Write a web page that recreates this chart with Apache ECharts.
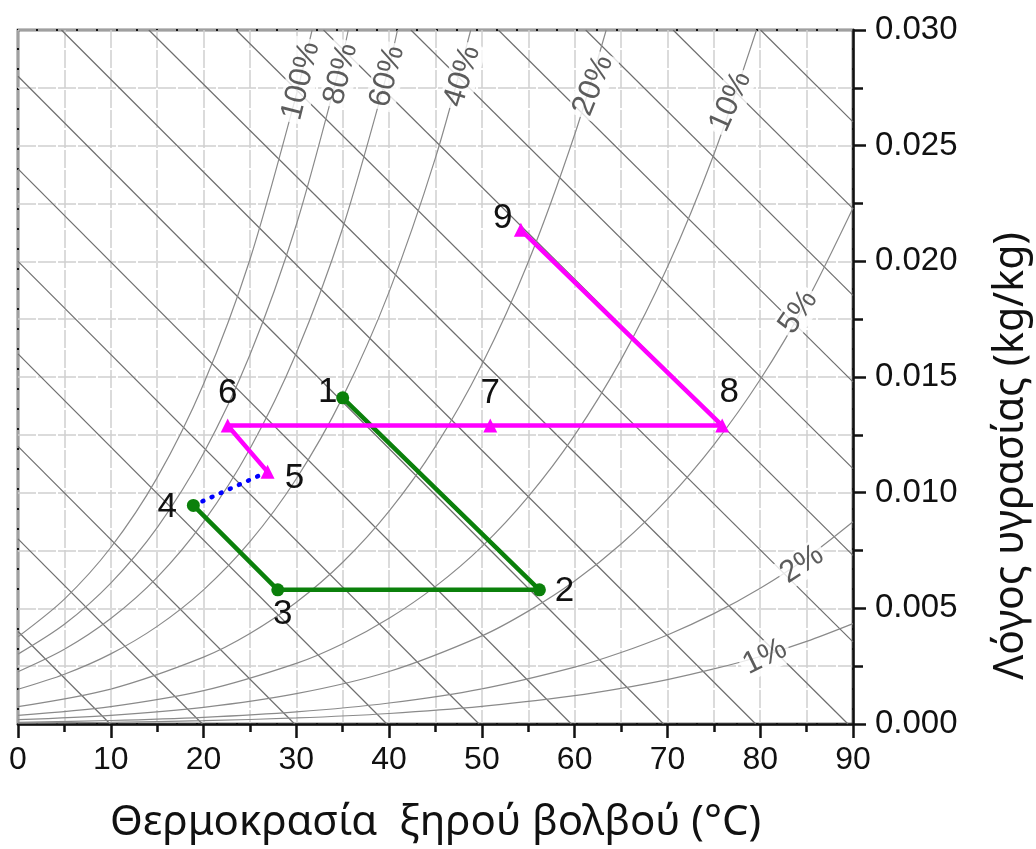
<!DOCTYPE html>
<html>
<head>
<meta charset="utf-8">
<script src="https://cdn.jsdelivr.net/npm/echarts@6/dist/echarts.min.js"></script>
<style>
  html, body { margin: 0; padding: 0; background: #ffffff; }
  #chart { width: 1036px; height: 849px; }
</style>
</head>
<body>
<div id="chart"></div>
<script>
// ---- Psychrometric background -------------------------------------------
// Relative-humidity curves: [dry-bulb temperature °C, humidity ratio kg/kg]
const rh100 = [[0,0.00377],[5,0.00540],[10,0.00763],[15,0.01065],[20,0.01470],[25,0.02008],[30,0.02720],[31.7,0.0300]];
const rh80  = [[0,0.00302],[5,0.00431],[10,0.00609],[15,0.00849],[20,0.01170],[25,0.01596],[30,0.02158],[35,0.02892],[35.6,0.0300]];
const rh60  = [[0,0.00226],[5,0.00323],[10,0.00456],[15,0.00634],[20,0.00874],[25,0.01190],[30,0.01604],[35,0.02144],[40,0.02844],[40.9,0.0300]];
const rh40  = [[0,0.00150],[5,0.00215],[10,0.00303],[15,0.00422],[20,0.00580],[25,0.00788],[30,0.01060],[35,0.01413],[40,0.01868],[45,0.02448],[48.8,0.0300]];
const rh20  = [[0,0.00075],[10,0.00151],[20,0.00289],[25,0.00391],[30,0.00526],[35,0.00699],[40,0.00920],[45,0.01200],[50,0.01554],[55,0.01997],[60,0.02548],[63.4,0.0300]];
const rh10  = [[0,0.000375],[10,0.000755],[20,0.00144],[30,0.00262],[35,0.00347],[40,0.00457],[45,0.00595],[50,0.00767],[55,0.00983],[60,0.01249],[65,0.01575],[70,0.01975],[75,0.02462],[79.6,0.0300]];
const rh5   = [[0,0.000188],[10,0.000377],[20,0.00072],[30,0.00131],[40,0.00227],[50,0.00381],[55,0.00488],[60,0.00618],[65,0.00778],[70,0.00972],[75,0.01207],[80,0.01489],[85,0.01827],[90,0.02231]];
const rh2   = [[0,0.000075],[10,0.000151],[20,0.000287],[30,0.000522],[40,0.000908],[50,0.00152],[60,0.00246],[65,0.00309],[70,0.00385],[75,0.00477],[80,0.00587],[85,0.00718],[90,0.00874]];
const rh1   = [[0,0.0000375],[10,0.0000755],[20,0.000144],[30,0.000261],[40,0.000454],[50,0.000760],[60,0.001227],[65,0.00154],[70,0.00192],[75,0.00238],[80,0.00292],[85,0.00357],[90,0.00434]];

const rhCurves = [rh100, rh80, rh60, rh40, rh20, rh10, rh5, rh2, rh1];
const rhNames  = ['100%', '80%', '60%', '40%', '20%', '10%', '5%', '2%', '1%'];
// where each curve carries its percentage label
const rhLabelAt = [[30.5,0.0278],[34.8,0.0281],[39.8,0.0280],[47.9,0.0280],[62.0,0.0276],[76.8,0.0269],[84.1,0.0178],[84.5,0.0069],[80.5,0.0029]];

// Constant-enthalpy lines (10 kJ/kg apart): start and end points
const enthalpyLines = [
  [[9.94,0],[0,0.0040]],
  [[19.88,0],[0,0.0080]],
  [[29.82,0],[0,0.0120]],
  [[39.76,0],[0,0.0160]],
  [[49.70,0],[0,0.0200]],
  [[59.64,0],[0,0.0240]],
  [[69.58,0],[0,0.0280]],
  [[79.52,0],[4.68,0.0300]],
  [[89.46,0],[14.10,0.0300]],
  [[90,0.00355],[23.51,0.0300]],
  [[90,0.00729],[32.93,0.0300]],
  [[90,0.01104],[42.35,0.0300]],
  [[90,0.01479],[51.77,0.0300]],
  [[90,0.01853],[61.19,0.0300]],
  [[90,0.02228],[70.61,0.0300]],
  [[90,0.02603],[80.03,0.0300]]
];

// ---- Process states ------------------------------------------------------
// Green path: states 1 → 2 → 3 → 4
const greenNames = ['1', '2', '3', '4'];
const greenTemp  = [35.0, 56.2, 28.0, 18.9];
const greenW     = [0.0141, 0.0058, 0.0058, 0.00945];

// Magenta path: states 5 → 6 → 7 → 8 → 9
const magentaNames = ['5', '6', '7', '8', '9'];
const magentaTemp  = [26.9, 22.6, 50.9, 75.9, 54.2];
const magentaW     = [0.0109, 0.0129, 0.0129, 0.0129, 0.02136];

// Mixing link between state 4 and state 5
const linkTemp = [18.9, 26.9];
const linkW    = [0.00945, 0.0109];

// ---- Presentation --------------------------------------------------------
const rhLabelAngle = [76, 76, 75, 73, 68, 66, 56, 33, 26];
const stateLabelOffset = {
  '1': [-15, -5], '2': [25, 2], '3': [5, 25], '4': [-26, 2],
  '5': [27, 6], '6': [0, -32], '7': [0, -32], '8': [7, -33], '9': [-18, -12]
};

const AXIS_FONT = '"Liberation Sans", Arial, sans-serif';
const TITLE_FONT = '"Noto Sans", "Open Sans", sans-serif';
const gridLine = { color: '#d0d0d0', width: 1.5, type: [18, 2] };

function stateData(names, temps, ws) {
  return names.map((n, i) => ({
    name: n,
    value: [temps[i], ws[i]],
    label: { offset: stateLabelOffset[n] }
  }));
}

const stateLabel = {
  show: true,
  position: 'inside',
  formatter: p => p.name,
  fontFamily: AXIS_FONT,
  fontSize: 35,
  color: '#111'
};

const series = [];

series.push({
  type: 'lines',
  coordinateSystem: 'cartesian2d',
  silent: true,
  z: 1,
  lineStyle: { color: '#6e6e6e', width: 1.2, opacity: 1 },
  data: enthalpyLines.map(c => ({ coords: c }))
});

rhCurves.forEach((curve, i) => {
  series.push({
    type: 'line',
    name: rhNames[i],
    silent: true,
    z: 1,
    smooth: 0.3,
    symbol: 'none',
    lineStyle: { color: '#8a8a8a', width: 1.2 },
    data: curve
  });
});

series.push({
  type: 'scatter',
  silent: true,
  z: 2,
  symbolSize: 1,
  itemStyle: { color: 'rgba(255,255,255,0)' },
  data: rhNames.map((n, i) => ({
    name: n,
    value: rhLabelAt[i],
    label: { rotate: rhLabelAngle[i] }
  })),
  label: {
    show: true,
    position: 'inside',
    formatter: p => p.name,
    fontFamily: AXIS_FONT,
    fontSize: 31,
    color: '#333',
    backgroundColor: '#ffffff',
    padding: [0, 3]
  }
});

series.push({
  type: 'line',
  silent: true,
  z: 3,
  symbol: 'none',
  lineStyle: { color: '#0000ff', width: 4.5, type: [1, 9], cap: 'round' },
  data: linkTemp.map((t, i) => [t, linkW[i]])
});

series.push({
  type: 'line',
  z: 4,
  symbol: 'circle',
  symbolSize: 13,
  itemStyle: { color: '#0b800b' },
  lineStyle: { color: '#0b800b', width: 4.5 },
  label: stateLabel,
  data: stateData(greenNames, greenTemp, greenW)
});

series.push({
  type: 'line',
  z: 5,
  symbol: 'triangle',
  symbolSize: 14,
  itemStyle: { color: '#ff00ff' },
  lineStyle: { color: '#ff00ff', width: 4.5 },
  label: stateLabel,
  data: stateData(magentaNames, magentaTemp, magentaW)
});

const chart = echarts.init(document.getElementById('chart'), null, { renderer: 'canvas' });
chart.setOption({
  animation: false,
  backgroundColor: '#ffffff',
  grid: {
    show: true,
    left: 18, right: 183, top: 30, bottom: 121,
    borderColor: '#111', borderWidth: 2.5,
    backgroundColor: 'transparent'
  },
  // humidity-ratio axis title, sitting a little below the axis middle
  graphic: [{
    type: 'text',
    x: 1011, y: 456,
    rotation: Math.PI / 2,
    style: {
      text: 'Λόγος υγρασίας (kg/kg)',
      fontFamily: TITLE_FONT, fontSize: 41, fill: '#111',
      align: 'center', verticalAlign: 'middle'
    }
  }],
  xAxis: {
    type: 'value',
    min: 0, max: 90, interval: 10,
    name: 'Θερμοκρασία  ξηρού βολβού (°C)',
    nameLocation: 'middle',
    nameGap: 78,
    nameTextStyle: { fontFamily: TITLE_FONT, fontSize: 42, color: '#111' },
    axisLine: { onZero: false, lineStyle: { color: '#111', width: 2.5 } },
    axisTick: { inside: false, length: 14, lineStyle: { color: '#111', width: 2.5 } },
    minorTick: { show: true, splitNumber: 2, length: 8, lineStyle: { color: '#111', width: 2.5 } },
    axisLabel: { fontFamily: AXIS_FONT, fontSize: 32, color: '#111', margin: 20 },
    splitLine: { show: true, lineStyle: gridLine },
    minorSplitLine: { show: true, lineStyle: gridLine }
  },
  yAxis: {
    type: 'value',
    position: 'right',
    min: 0, max: 0.03, interval: 0.005,
    axisLine: { show: true, onZero: false, lineStyle: { color: '#111', width: 2.5 } },
    axisTick: { show: true, inside: false, length: 13, lineStyle: { color: '#111', width: 2.5 } },
    minorTick: { show: true, splitNumber: 2, length: 10, lineStyle: { color: '#111', width: 2.5 } },
    axisLabel: { fontFamily: AXIS_FONT, fontSize: 33, color: '#111', margin: 22,
                 formatter: v => v.toFixed(3) },
    splitLine: { show: true, lineStyle: gridLine },
    minorSplitLine: { show: true, lineStyle: gridLine }
  },
  series: series
});
</script>
</body>
</html>
